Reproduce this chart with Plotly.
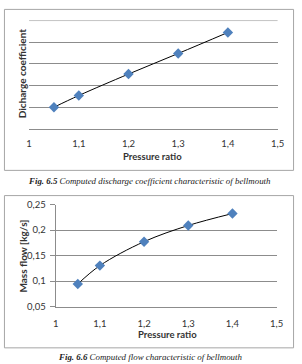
import plotly.graph_objects as go

W, H = 302, 364

# Data
pressure_ratio = [1.05, 1.1, 1.2, 1.3, 1.4]
discharge_coef = [0.960, 0.9654, 0.9753, 0.9848, 0.9945]
mass_flow = [0.0943, 0.1304, 0.1772, 0.2089, 0.2323]
x_ticks = [1, 1.1, 1.2, 1.3, 1.4, 1.5]
x_tick_text = ["1", "1,1", "1,2", "1,3", "1,4", "1,5"]
y2_ticks = [0.05, 0.1, 0.15, 0.2, 0.25]
y2_tick_text = ["0,05", "0,1", "0,15", "0,2", "0,25"]

MARK = "#4F81BD"
GRID = "#8C8C8C"
BORDER = "#A6A6A6"
TXT = "#333333"
FONT = "Lato"
SERIF = "Liberation Serif"

def px(x):
    return x / W

def py(y):
    return 1 - y / H

fig = go.Figure()

for xa, ya, yv in [("x", "y", discharge_coef), ("x2", "y2", mass_flow)]:
    fig.add_trace(go.Scatter(x=pressure_ratio, y=yv, mode="lines",
                             line=dict(color="black", width=1, shape="spline"),
                             xaxis=xa, yaxis=ya, showlegend=False, hoverinfo="skip",
                             cliponaxis=False))
    fig.add_trace(go.Scatter(x=pressure_ratio, y=yv, mode="markers",
                             marker=dict(symbol="diamond", size=8, color=MARK,
                                         line=dict(width=0)),
                             xaxis=xa, yaxis=ya, showlegend=False,
                             cliponaxis=False))

tickfont = dict(family=FONT, size=9.5, color=TXT)

fig.update_layout(
    width=W, height=H,
    margin=dict(l=0, r=0, t=0, b=0),
    paper_bgcolor="white", plot_bgcolor="white",
    font=dict(family=FONT, color=TXT),
    xaxis=dict(domain=[px(27), px(284)], range=[1, 1.5], tickvals=x_ticks,
               ticktext=x_tick_text, showgrid=False, zeroline=False,
               showline=True, linecolor=GRID, linewidth=1, ticks="",
               tickfont=tickfont, ticklabelstandoff=6,
               anchor="y", fixedrange=True),
    yaxis=dict(domain=[py(126.7), py(15)], range=[0.95, 1.0], dtick=0.01,
               tick0=0.95, showgrid=True, gridcolor=GRID, gridwidth=1,
               showticklabels=False, zeroline=False, showline=False, ticks="",
               anchor="x", fixedrange=True),
    xaxis2=dict(domain=[px(54.5), px(283)], range=[1, 1.5], tickvals=x_ticks,
                ticktext=x_tick_text, showgrid=False, zeroline=False,
                showline=True, linecolor=GRID, linewidth=1, ticks="",
                tickfont=tickfont, ticklabelstandoff=8,
                anchor="y2", fixedrange=True),
    yaxis2=dict(domain=[py(310), py(204.7)], range=[0.05, 0.25],
                tickvals=y2_ticks, ticktext=y2_tick_text, showgrid=True,
                gridcolor=GRID, gridwidth=1, zeroline=False, showline=True,
                linecolor=GRID, linewidth=1, ticks="outside", ticklen=5,
                tickcolor=GRID, tickfont=tickfont, ticklabelstandoff=2,
                anchor="x2", fixedrange=True),
)

shapes = [
    dict(type="rect", xref="paper", yref="paper", x0=px(1.5), x1=px(300.5),
         y0=py(169.5), y1=py(3.5), line=dict(color=BORDER, width=1)),
    dict(type="rect", xref="paper", yref="paper", x0=px(1.5), x1=px(300.5),
         y0=py(352.5), y1=py(195.5), line=dict(color=BORDER, width=1)),
    # top gridline of the upper chart (at the range edge)
    dict(type="line", xref="x domain", yref="y", x0=0, x1=1, y0=1.0, y1=1.0,
         line=dict(color=GRID, width=1), layer="below"),
]
fig.update_layout(shapes=shapes)

ann = []
def add_text(text, x, y, size, bold=False, angle=0, family=FONT, color=TXT):
    ann.append(dict(text=("<b>%s</b>" % text) if bold else text, xref="paper",
                    yref="paper", x=px(x), y=py(y), showarrow=False,
                    xanchor="center", yanchor="middle", textangle=angle,
                    font=dict(family=family, size=size, color=color)))

add_text("Pressure ratio", 155, 155, 9.5, bold=True)
add_text("Dicharge coefficient", 20, 70, 10, bold=True, angle=-90)
add_text("Pressure ratio", 170, 339, 9.5, bold=True)
add_text("Mass flow [kg/s]", 20.5, 257.5, 10, bold=True, angle=-90)
add_text("<i><b>Fig. 6.5</b> Computed discharge coefficient characteristic of bellmouth</i>",
         152, 180, 8.9, family=SERIF, color="#222222")
add_text("<i><b>Fig. 6.6</b> Computed flow characteristic of bellmouth</i>",
         152, 361.5, 8.9, family=SERIF, color="#222222")
fig.update_layout(annotations=ann)

fig.write_html("out.html")
